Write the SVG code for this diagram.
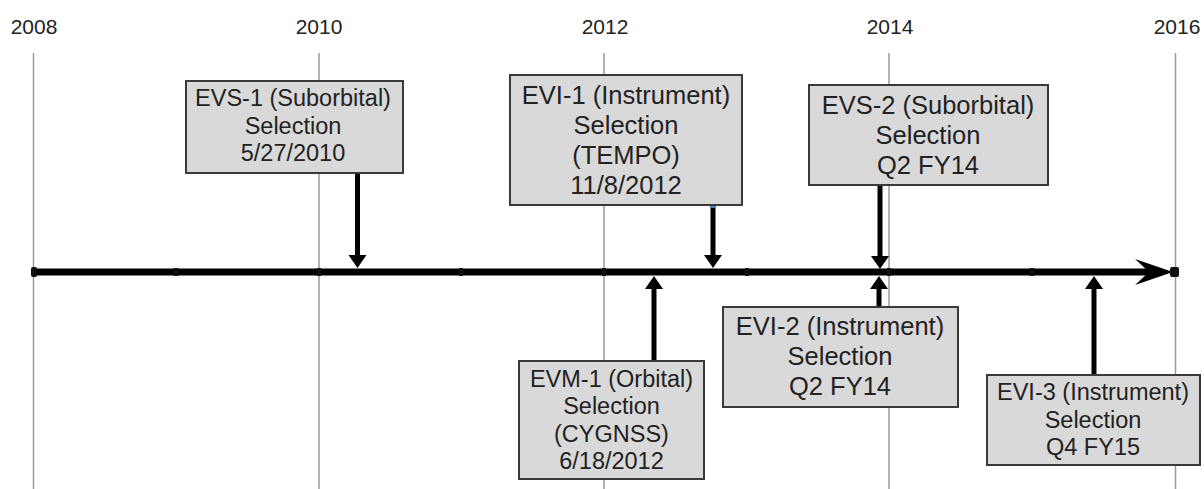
<svg xmlns="http://www.w3.org/2000/svg" width="1204" height="489" viewBox="0 0 1204 489">
<style>
.grid{stroke:#9a9a9a;stroke-width:1.5}
.yr{font-family:"Liberation Sans",Arial,sans-serif;font-size:21px;fill:#222;text-anchor:middle}
.box{fill:#d9d9d9;stroke:#3a3a3a;stroke-width:2}
.t{font-family:"Liberation Sans",Arial,sans-serif;fill:#222;text-anchor:middle}
.s{font-size:23.5px}
.l{font-size:25.5px}
.shaft{stroke:#000;stroke-width:5;fill:none}
.head{fill:#000}
.tick{fill:#111}
</style>
<rect width="1204" height="489" fill="#fff"/>
<g id="grid">
<line class="grid" x1="33.5" y1="53" x2="33.5" y2="489"/>
<line class="grid" x1="319" y1="53" x2="319" y2="489"/>
<line class="grid" x1="604" y1="53" x2="604" y2="489"/>
<line class="grid" x1="889" y1="53" x2="889" y2="489"/>
<line class="grid" x1="1175.5" y1="53" x2="1175.5" y2="489"/>
<text class="yr" x="34" y="34">2008</text>
<text class="yr" x="319" y="34">2010</text>
<text class="yr" x="605" y="34">2012</text>
<text class="yr" x="890" y="34">2014</text>
<text class="yr" x="1177" y="34">2016</text>
</g>
<g id="timeline">
<line x1="34" y1="272" x2="1160" y2="272" stroke="#000" stroke-width="7"/>
<path d="M1173,272 L1135,259 L1149,272 L1135,285 Z" fill="#000"/>
<rect class="tick" x="31" y="267" width="6" height="10" rx="2"/>
<rect class="tick" x="174" y="268" width="4" height="8"/>
<rect class="tick" x="317" y="268" width="4" height="8"/>
<rect class="tick" x="459" y="268" width="4" height="8"/>
<rect class="tick" x="602" y="268" width="4" height="8"/>
<rect class="tick" x="745" y="268" width="4" height="8"/>
<rect class="tick" x="887" y="268" width="4" height="8"/>
<rect class="tick" x="1030" y="268" width="4" height="8"/>
<rect class="tick" x="1170" y="267" width="9" height="10" rx="2"/>
</g>
<g id="connectors">
<line class="shaft" x1="357.5" y1="173" x2="357.5" y2="258"/>
<polygon class="head" points="348.5,255 366.5,255 357.5,268"/>
<line class="shaft" x1="713" y1="205" x2="713" y2="258"/>
<polygon class="head" points="704,255 722,255 713,268"/>
<rect x="710" y="205" width="6" height="3" fill="#4a7ebb"/>
<line class="shaft" x1="880" y1="185" x2="880" y2="258"/>
<polygon class="head" points="871,256 889,256 880,269"/>
<line class="shaft" x1="654" y1="361" x2="654" y2="286"/>
<polygon class="head" points="645,289 663,289 654,276"/>
<line class="shaft" x1="879" y1="307" x2="879" y2="286"/>
<polygon class="head" points="870,289 888,289 879,276"/>
<line class="shaft" x1="1094" y1="375" x2="1094" y2="286"/>
<polygon class="head" points="1085,289 1103,289 1094,276"/>
</g>
<g id="evs1">
<rect class="box" x="186" y="81" width="217" height="92"/>
<text class="t s" x="293" y="106">EVS-1 (Suborbital)</text>
<text class="t s" x="293" y="133.5">Selection</text>
<text class="t s" x="293" y="161">5/27/2010</text>
</g>
<g id="evi1">
<rect class="box" x="510" y="75" width="232" height="130"/>
<text class="t l" x="626" y="103.5">EVI-1 (Instrument)</text>
<text class="t l" x="626" y="133.5">Selection</text>
<text class="t l" x="626" y="164">(TEMPO)</text>
<text class="t l" x="626" y="194">11/8/2012</text>
</g>
<g id="evs2">
<rect class="box" x="809" y="85" width="239" height="100"/>
<text class="t l" x="928" y="113.5">EVS-2 (Suborbital)</text>
<text class="t l" x="928" y="143.5">Selection</text>
<text class="t l" x="928" y="173.5">Q2 FY14</text>
</g>
<g id="evm1">
<rect class="box" x="519" y="361" width="185" height="118"/>
<text class="t s" x="611.5" y="386.5">EVM-1 (Orbital)</text>
<text class="t s" x="611.5" y="414">Selection</text>
<text class="t s" x="611.5" y="441.5">(CYGNSS)</text>
<text class="t s" x="611.5" y="469">6/18/2012</text>
</g>
<g id="evi2">
<rect class="box" x="723" y="307" width="235" height="100"/>
<text class="t l" x="840" y="335">EVI-2 (Instrument)</text>
<text class="t l" x="840" y="365">Selection</text>
<text class="t l" x="840" y="395">Q2 FY14</text>
</g>
<g id="evi3">
<rect class="box" x="987" y="375" width="213" height="90"/>
<text class="t s" x="1093" y="400">EVI-3 (Instrument)</text>
<text class="t s" x="1093" y="427.5">Selection</text>
<text class="t s" x="1093" y="455">Q4 FY15</text>
</g>
</svg>
